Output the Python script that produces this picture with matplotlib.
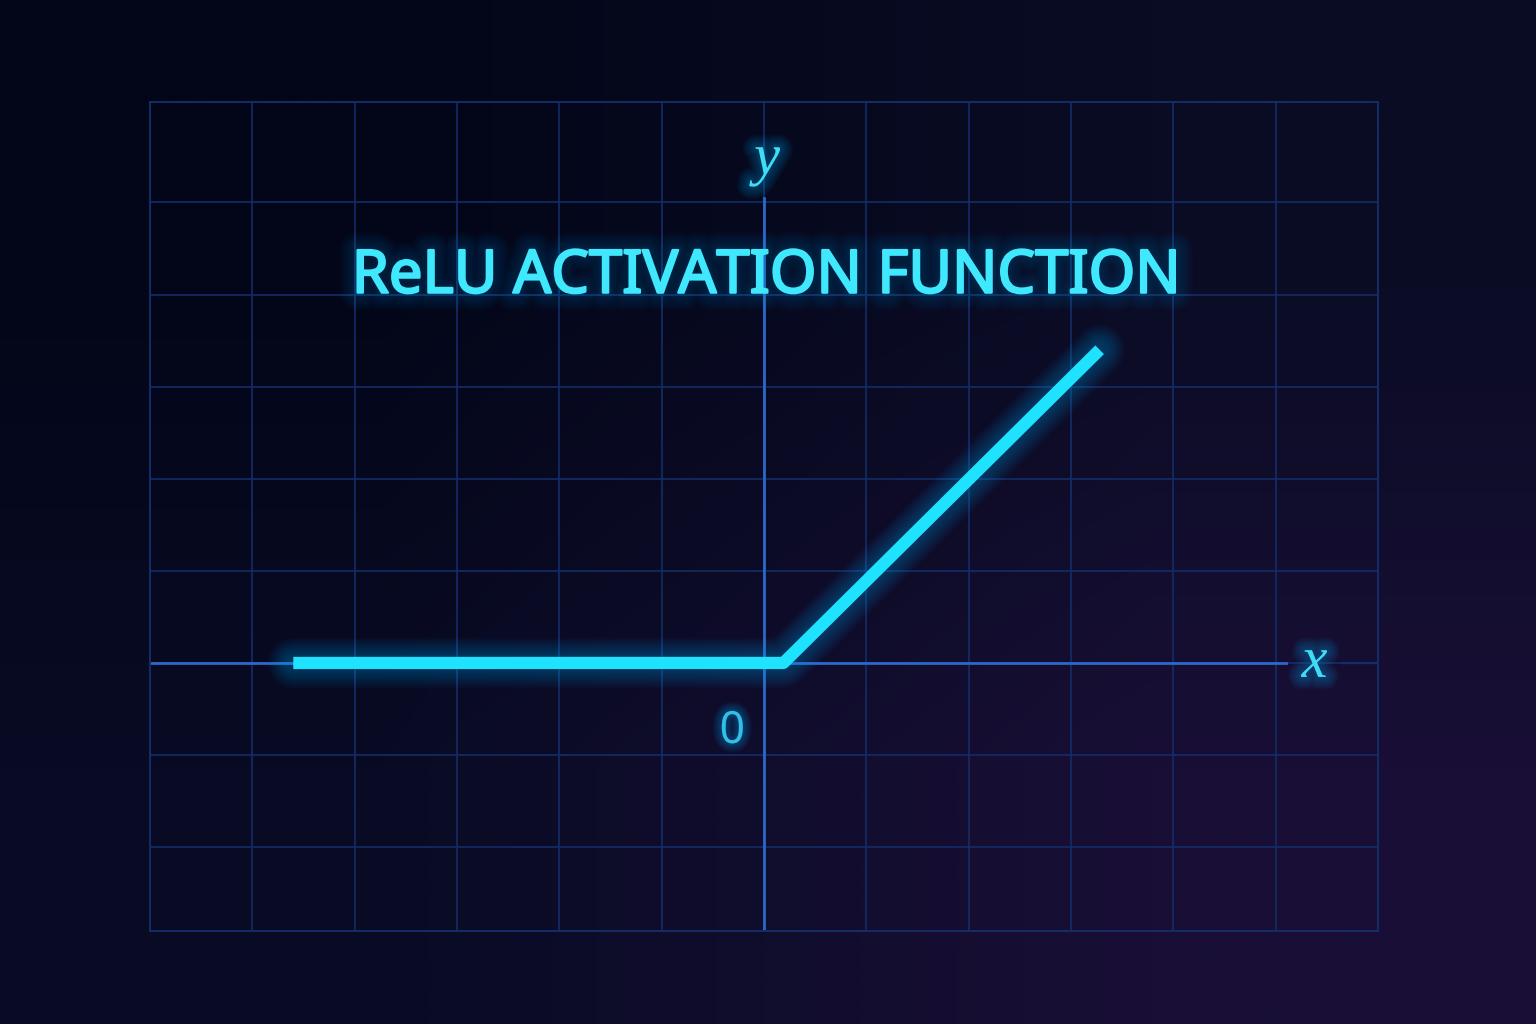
import numpy as np
import matplotlib
matplotlib.use("Agg")
import matplotlib.pyplot as plt
import matplotlib.patheffects as pe

# ReLU polyline (grid units, origin at axis crossing)
relu_x = [-4.6, 0.19, 3.28]
relu_y = [0.0, 0.0, 3.4]

# grid extent in cells
x_lim = (-6, 6)
y_lim = (-2.91, 6.09)

title = "ReLU ACTIVATION FUNCTION"

CYAN = '#1fe2ff'
GLOW = '#00b0ff'
GRID = '#132d68'
AXIS = '#2c68cc'


def glow(scale, color=GLOW, alpha=0.04, core=None):
    '''soft stroke path effects that fake a neon glow'''
    fx = [pe.Stroke(linewidth=w * scale, foreground=color, alpha=alpha)
          for w in range(26, 2, -3)]
    if core:
        # thin stroke in the text colour makes the glyphs a bit heavier
        fx.append(pe.Stroke(linewidth=core[0], foreground=core[1]))
    return fx + [pe.Normal()]


fig = plt.figure(figsize=(15.36, 10.24), dpi=100)

# background gradient over the whole figure
bg = fig.add_axes([0, 0, 1, 1])
corners = np.array([[[3, 6, 24], [10, 12, 36]],
                    [[9, 11, 36], [25, 15, 54]]]) / 255.0
bg.imshow(corners, interpolation='bilinear', extent=(0, 1, 0, 1), aspect='auto')
bg.axis('off')

ax = fig.add_axes([150 / 1536, 93 / 1024, 1228 / 1536, 829 / 1024])
ax.set_facecolor('none')
ax.set_xlim(*x_lim)
ax.set_ylim(*y_lim)
ax.set_xticks(np.arange(-6, 7))
ax.set_yticks(np.arange(-2, 6))
ax.grid(color=GRID, linewidth=1.2)
ax.tick_params(length=0, labelbottom=False, labelleft=False)
for s in ax.spines.values():
    s.set_color(GRID)
    s.set_linewidth(1.4)

# axes (brighter than grid), with gaps at the labels
ax.plot([x_lim[0], 5.1], [0, 0], color=AXIS, lw=2.0)
ax.plot([5.65, x_lim[1]], [0, 0], color=GRID, lw=1.6)
ax.plot([0, 0], [y_lim[0], 5.05], color=AXIS, lw=2.0)

# glowing ReLU line
for w in range(36, 9, -3):
    ax.plot(relu_x, relu_y, color=GLOW, lw=w, alpha=0.035, solid_capstyle='round',
            solid_joinstyle='round')
ax.plot(relu_x, relu_y, color=CYAN, lw=8.8, solid_capstyle='butt',
        solid_joinstyle='round')

ax.text(0.02, 4.02, title, ha='center', va='baseline', fontsize=43,
        family='Noto Sans', color='#3fe8fc',
        path_effects=glow(1.0, alpha=0.025, core=(1.6, '#3fe8fc')))
ax.text(0.03, 5.46, 'y', ha='center', va='center', fontsize=42, style='italic',
        family='Liberation Serif', color='#3fdcf5', path_effects=glow(0.7))
ax.text(5.38, 0.0, 'x', ha='center', va='center', fontsize=42, style='italic',
        family='Liberation Serif', color='#3fdcf5', path_effects=glow(0.7))
ax.text(-0.31, -0.75, '0', ha='center', va='center', fontsize=32,
        family='Noto Sans', color='#2fbfe8', path_effects=glow(0.5))

fig.savefig('out.png', dpi=100)
